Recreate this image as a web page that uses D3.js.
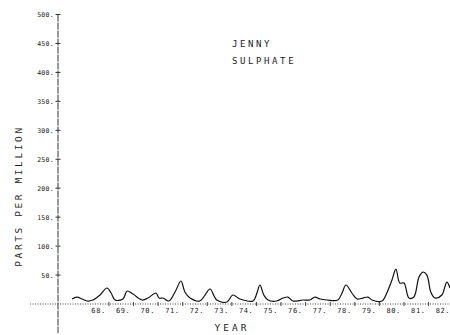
<!DOCTYPE html>
<html>
<head>
<meta charset="utf-8">
<script src="https://cdn.jsdelivr.net/npm/d3@7"></script>
<style>
  html, body { margin: 0; padding: 0; background: #fff; }
  svg { display: block; }
  text { font-family: "DejaVu Sans Mono", monospace; fill: #222; }
</style>
</head>
<body>
<svg id="chart" width="450" height="335"></svg>
<script>
// sampled readings, decimal year vs ppm
const years = [1967.00, 1967.20, 1967.41, 1967.61, 1967.85, 1968.14, 1968.42, 1968.59, 1968.75,
  1969.07, 1969.24, 1969.48, 1969.85, 1970.09, 1970.41, 1970.54, 1970.70, 1970.94,
  1971.19, 1971.43, 1971.59, 1971.80, 1972.20, 1972.41, 1972.61, 1972.89, 1973.30,
  1973.54, 1973.83, 1974.36, 1974.52, 1974.64, 1974.80, 1974.97, 1975.33, 1975.58,
  1975.78, 1975.98, 1976.39, 1976.67, 1976.88, 1977.08, 1977.37, 1977.81, 1977.98,
  1978.14, 1978.38, 1978.59, 1978.83, 1979.03, 1979.20, 1979.60, 1979.80, 1980.01,
  1980.17, 1980.33, 1980.50, 1980.70, 1980.90, 1981.11, 1981.27, 1981.43, 1981.59,
  1981.76, 1982.04, 1982.24, 1982.37];
const sulphate = [8.6, 12, 8.6, 5.2, 6.9, 15.5, 27.6, 19, 6.9,
  8.6, 22.4, 17.2, 6.9, 10.3, 19, 10.3, 10.3, 5.2,
  20.7, 39.7, 20.7, 10.3, 5.2, 15.5, 25.9, 6.9, 3.4,
  15.5, 8.6, 5.2, 19, 32.8, 15.5, 6.9, 5.2, 10.3,
  12, 5.2, 6.9, 6.9, 12, 8.6, 6.9, 6.9, 19,
  32.8, 19, 8.6, 10.3, 12, 6.9, 5.2, 19, 41.4,
  60.3, 36.2, 36.2, 10.3, 12, 46.6, 55.2, 50, 20.7,
  10.3, 15.5, 37.9, 27.6];
const yTicks = [50, 100, 150, 200, 250, 300, 350, 400, 450, 500];
const yearLabels = ["68.", "69.", "70.", "71.", "72.", "73.", "74.", "75.", "76.", "77.", "78.", "79.", "80.", "81.", "82."];
const titleLines = ["JENNY", "SULPHATE"];

const svg = d3.select('#chart');
const x = d3.scaleLinear().domain([1967, 1982.37]).range([72, 450]);
const y = d3.scaleLinear().domain([0, 500]).range([304, 14.5]);
const axisX = 58;

// y axis line runs past the origin, like the plotter output
svg.append('line')
  .attr('x1', axisX).attr('x2', axisX).attr('y1', y(500)).attr('y2', 333)
  .attr('stroke', '#333').attr('stroke-width', 1).attr('stroke-dasharray', '7,1');

svg.append('g').selectAll('line').data(yTicks).join('line')
  .attr('x1', axisX - 2.5).attr('x2', axisX + 2.5)
  .attr('y1', d => y(d)).attr('y2', d => y(d))
  .attr('stroke', '#333').attr('stroke-width', 1);

svg.append('g').selectAll('text').data(yTicks).join('text')
  .attr('x', axisX - 4).attr('y', d => y(d) + 2.5)
  .attr('text-anchor', 'end').attr('font-size', 6.5).attr('letter-spacing', 0.3)
  .text(d => d + '.');

// dotted x axis at zero
svg.append('line')
  .attr('x1', 30).attr('x2', 450).attr('y1', y(0)).attr('y2', y(0))
  .attr('stroke', '#444').attr('stroke-width', 1).attr('stroke-dasharray', '1,1.5');

const tickYears = d3.range(1968, 1983).map(d => d + 0.5);
svg.append('g').selectAll('line').data(tickYears).join('line')
  .attr('x1', d => x(d)).attr('x2', d => x(d))
  .attr('y1', y(0) - 2).attr('y2', y(0) + 2)
  .attr('stroke', '#444').attr('stroke-width', 1);

svg.append('g').selectAll('text').data(yearLabels).join('text')
  .attr('x', (d, i) => x(1968 + i) + 2).attr('y', y(0) + 8.5)
  .attr('text-anchor', 'middle').attr('font-size', 7).attr('letter-spacing', 0.6)
  .text(d => d);

// the series
const line = d3.line().x((d, i) => x(years[i])).y(d => y(d)).curve(d3.curveCatmullRom.alpha(0.5));
svg.append('path')
  .attr('d', line(sulphate))
  .attr('fill', 'none').attr('stroke', '#111').attr('stroke-width', 1.2);

// titles
svg.append('g').selectAll('text').data(titleLines).join('text')
  .attr('x', 232).attr('y', (d, i) => 47 + i * 17)
  .attr('font-size', 9).attr('letter-spacing', 2.6)
  .text(d => d);

svg.append('text')
  .attr('transform', 'translate(22,196) rotate(-90)')
  .attr('text-anchor', 'middle').attr('font-size', 9.5).attr('letter-spacing', 2.6)
  .text('PARTS PER MILLION');

svg.append('text')
  .attr('x', 232).attr('y', 331)
  .attr('text-anchor', 'middle').attr('font-size', 9.5).attr('letter-spacing', 3)
  .text('YEAR');
</script>
</body>
</html>
